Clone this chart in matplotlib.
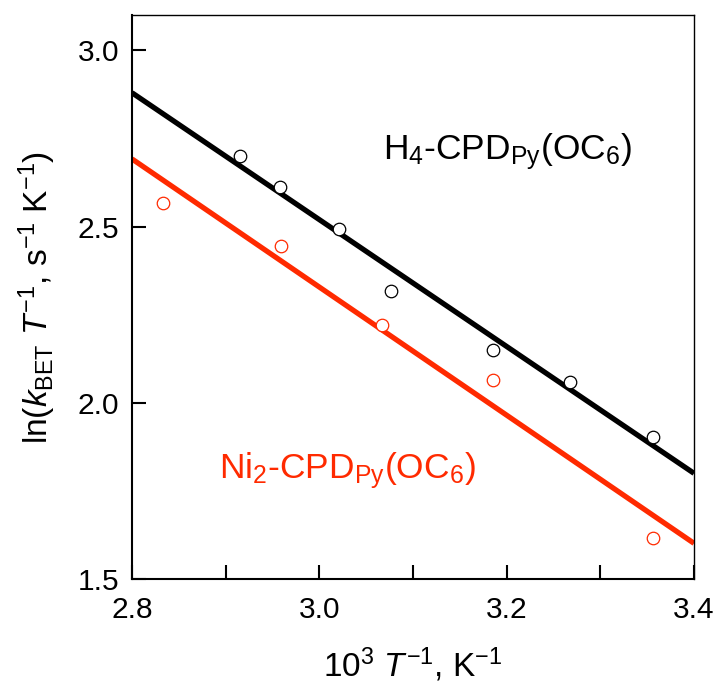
import numpy as np
import matplotlib
matplotlib.use('Agg')
import matplotlib.pyplot as plt

# data
h4_x = [2.915, 2.958, 3.021, 3.076, 3.185, 3.268, 3.356]
h4_y = [2.700, 2.612, 2.493, 2.317, 2.151, 2.059, 1.903]
ni2_x = [2.833, 2.959, 3.067, 3.185, 3.356]
ni2_y = [2.567, 2.446, 2.221, 2.065, 1.615]

xticks = [2.8, 2.9, 3.0, 3.1, 3.2, 3.3, 3.4]
xticklabels = ['2.8', '', '3.0', '', '3.2', '', '3.4']
yticks = [1.5, 2.0, 2.5, 3.0]
yticklabels = ['1.5', '2.0', '2.5', '3.0']

RED = '#ff2a00'

plt.rcParams['font.family'] = ['Liberation Sans', 'DejaVu Sans']
plt.rcParams['mathtext.fontset'] = 'custom'
plt.rcParams['mathtext.rm'] = 'Liberation Sans'
plt.rcParams['mathtext.it'] = 'Liberation Sans:italic'
plt.rcParams['mathtext.bf'] = 'Liberation Sans:bold'

fig = plt.figure(figsize=(7.18, 6.83), dpi=100)
ax = fig.add_axes([0.1838, 0.1523, 0.7828, 0.8257])

xfit = np.array([2.8, 3.4])
for xs, ys, col in [(h4_x, h4_y, 'black'), (ni2_x, ni2_y, RED)]:
    # linear fit of the Eyring plot
    k, b = np.polyfit(xs, ys, 1)
    ax.plot(xfit, k * xfit + b, color=col, lw=3.8, solid_capstyle='butt', zorder=2)
    ax.plot(xs, ys, 'o', ms=9, mfc='white', mec=col, mew=0.9, zorder=3)

ax.set_xlim(2.8, 3.4)
ax.set_ylim(1.5, 3.1)
ax.set_xticks(xticks)
ax.set_xticklabels(xticklabels)
ax.set_yticks(yticks)
ax.set_yticklabels(yticklabels)
ax.tick_params(direction='in', length=10, width=1.5, labelsize=21.5)
ax.tick_params(axis='x', pad=12)
ax.tick_params(axis='y', pad=9)

for s in ['left', 'bottom']:
    ax.spines[s].set_linewidth(1.5)
for s in ['top', 'right']:
    ax.spines[s].set_linewidth(1.0)

ax.text(0.447, 0.744, r'H$_4$-CPD$_{\rm Py}$(OC$_6$)', transform=ax.transAxes,
        fontsize=25.5, color='black')
ax.text(0.155, 0.179, r'Ni$_2$-CPD$_{\rm Py}$(OC$_6$)', transform=ax.transAxes,
        fontsize=25.5, color=RED)

ax.set_xlabel(r'10$^3$ $T^{-1}$, K$^{-1}$', fontsize=24, labelpad=16)
ax.set_ylabel(r'ln($k_{\rm BET}$ $T^{-1}$, s$^{-1}$ K$^{-1}$)', fontsize=24, labelpad=14)

plt.savefig('out.png', dpi=100)
